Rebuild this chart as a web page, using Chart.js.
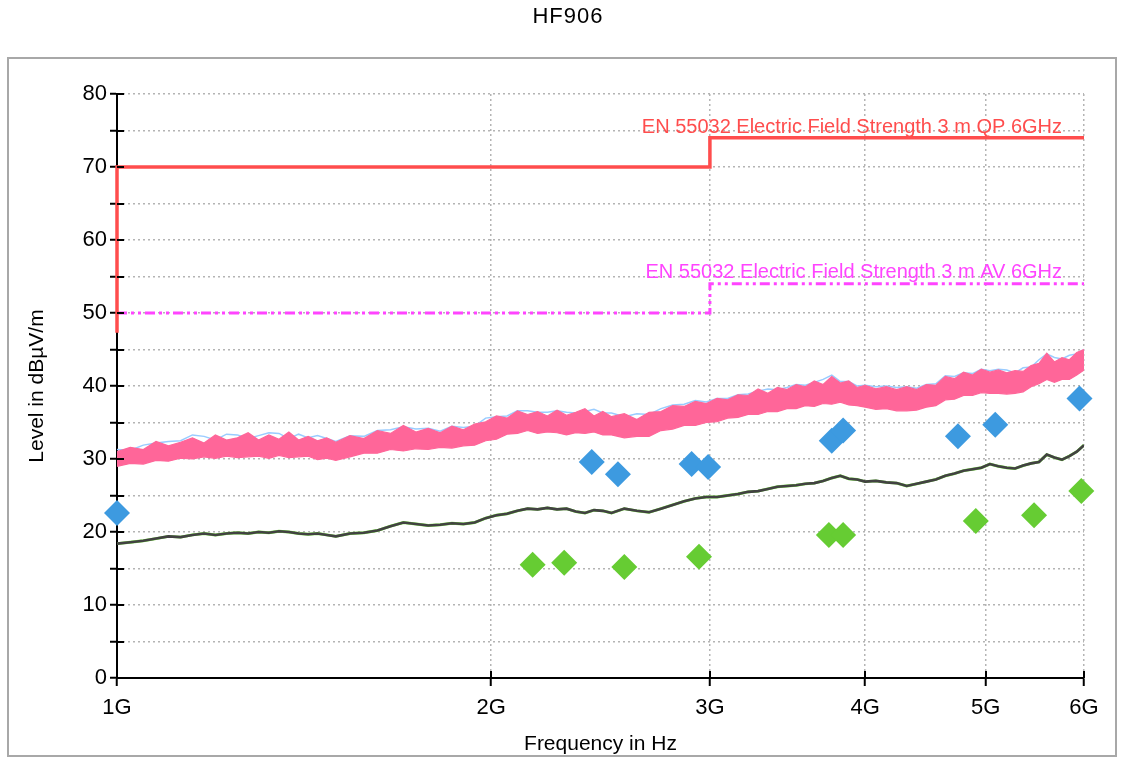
<!DOCTYPE html>
<html>
<head>
<meta charset="utf-8">
<title>HF906</title>
<script src="https://cdn.jsdelivr.net/npm/chart.js@4/dist/chart.umd.min.js"></script>
<style>
  html, body { margin: 0; padding: 0; background: #fff; }
  canvas { display: block; }
</style>
</head>
<body>
<canvas id="emcChart" width="1124" height="758"></canvas>
<script>
// Frequencies in GHz for the scan traces
const freqs = [
  1.000, 1.025, 1.050, 1.075, 1.100, 1.125, 1.150, 1.175, 1.200, 1.225,
  1.250, 1.275, 1.300, 1.325, 1.350, 1.375, 1.400, 1.425, 1.450, 1.475,
  1.50, 1.54, 1.58, 1.62, 1.66, 1.70, 1.74, 1.78, 1.82, 1.86,
  1.90, 1.94, 1.98, 2.02, 2.06, 2.10, 2.14, 2.18, 2.22, 2.26,
  2.30, 2.34, 2.38, 2.42, 2.46,
  2.50, 2.56, 2.62, 2.68, 2.74, 2.80, 2.86, 2.92, 2.98, 3.04,
  3.10, 3.16, 3.22, 3.28, 3.34, 3.40, 3.46, 3.52, 3.58, 3.64,
  3.70, 3.76, 3.82, 3.88, 3.94,
  4.00, 4.08, 4.16, 4.24, 4.32, 4.40, 4.48, 4.56, 4.64, 4.72,
  4.80, 4.88, 4.96, 5.04, 5.12, 5.20, 5.28, 5.36, 5.44, 5.52,
  5.60, 5.68, 5.76, 5.84, 5.92, 6.00
];

// Peak scan (pink) - upper and lower edge of the noisy band
const peakHigh = [
  31.0, 31.6, 31.3, 32.4, 31.8, 32.3, 32.9, 32.2, 33.3, 32.6,
  32.9, 33.6, 32.6, 33.3, 32.7, 33.7, 32.6, 33.1, 32.5, 32.9,
  32.3, 33.2, 32.8, 33.9, 33.5, 34.6, 33.7, 34.2, 33.6, 34.5,
  34.0, 34.8, 35.1, 35.9, 35.6, 36.6, 36.1, 36.5, 35.9, 36.7,
  36.0, 36.4, 36.9, 35.9, 36.5,
  35.8, 36.2, 35.4, 36.4, 36.5, 37.3, 37.2, 37.9, 37.6, 38.3,
  38.1, 38.8, 38.7, 39.6, 39.0, 39.8, 39.5, 40.2, 39.9, 40.7,
  40.2, 41.3, 40.4, 40.7, 39.8,
  40.1, 39.6, 39.9, 39.5, 39.9, 39.5, 40.2, 40.1, 41.3, 41.0,
  41.9, 41.5, 42.3, 41.9, 42.2, 41.8, 42.1, 42.0, 42.8, 43.1,
  44.5, 43.3, 43.9, 43.6, 44.6, 45.0
];
const peakLow = [
  29.0, 29.4, 29.3, 29.8, 29.7, 30.1, 30.0, 30.3, 30.1, 30.4,
  30.2, 30.3, 30.4, 30.1, 30.5, 30.2, 30.3, 30.4, 29.9, 30.1,
  29.8, 30.3, 30.8, 30.8, 31.3, 31.1, 31.4, 31.3, 31.6, 31.5,
  31.8, 31.9, 32.5, 32.7, 33.4, 33.5, 33.9, 33.5, 33.7, 33.6,
  33.3, 33.6, 33.5, 33.7, 33.3,
  33.3, 32.9, 33.1, 33.1, 33.9, 34.1, 34.6, 34.6, 35.0, 35.1,
  35.6, 35.7, 36.1, 36.1, 36.5, 36.5, 36.9, 36.9, 37.3, 37.2,
  37.6, 37.5, 37.8, 37.4, 37.3,
  37.1, 36.8, 36.9, 36.6, 36.6, 36.7, 37.1, 37.3, 38.1, 38.2,
  38.7, 38.7, 39.1, 39.0, 39.0, 38.9, 39.0, 39.2, 39.9, 40.3,
  40.9, 40.5, 40.9, 40.9, 41.5, 42.2
];
// Second peak trace (light blue), mostly hidden under the pink one
const peak2 = [
  31.3, 31.2, 31.9, 32.2, 32.4, 32.5, 33.3, 33.1, 32.6, 33.4,
  33.3, 32.8, 33.2, 33.6, 33.5, 32.8, 33.4, 32.9, 33.2, 32.8,
  32.4, 33.2, 33.1, 33.9, 34.0, 34.4, 34.1, 34.2, 33.8, 34.5,
  34.3, 34.5, 35.6, 35.8, 35.9, 36.6, 36.6, 36.4, 36.4, 36.6,
  36.4, 36.3, 36.5, 36.8, 36.3,
  36.3, 35.8, 36.2, 36.1, 36.9, 37.4, 37.5, 38.0, 37.8, 38.3,
  38.3, 38.8, 38.9, 39.3, 39.6, 39.5, 39.8, 40.2, 40.1, 40.5,
  40.9, 41.5, 40.6, 40.6, 40.0,
  40.1, 39.9, 40.0, 39.8, 39.9, 39.7, 40.2, 40.3, 41.4, 41.3,
  41.8, 41.7, 42.3, 42.1, 42.3, 42.2, 41.8, 42.5, 42.6, 43.6,
  44.4, 43.9, 43.7, 44.2, 44.4, 45.0
];
// Average scan (dark grey, green underneath)
const average = [
  18.4, 18.6, 18.8, 19.1, 19.4, 19.3, 19.6, 19.8, 19.6, 19.8,
  19.9, 19.8, 20.0, 19.9, 20.1, 20.0, 19.8, 19.7, 19.8, 19.6,
  19.4, 19.8, 19.9, 20.2, 20.8, 21.3, 21.1, 20.9, 21.0, 21.2,
  21.1, 21.3, 21.9, 22.3, 22.5, 22.9, 23.2, 23.1, 23.3, 23.1,
  23.2, 22.8, 22.6, 23.0, 22.9,
  22.6, 23.2, 22.9, 22.7, 23.2, 23.7, 24.2, 24.6, 24.8, 24.8,
  25.0, 25.2, 25.5, 25.6, 25.9, 26.2, 26.3, 26.4, 26.6, 26.7,
  27.0, 27.4, 27.7, 27.3, 27.2,
  26.9, 27.0, 26.8, 26.7, 26.3, 26.6, 26.9, 27.2, 27.7, 28.0,
  28.4, 28.6, 28.8, 29.3, 29.0, 28.8, 28.7, 29.1, 29.4, 29.6,
  30.6, 30.2, 29.9, 30.4, 31.0, 31.9
];

// Final measurement markers
const qpMarkFreq = [1.00, 2.41, 2.53, 2.90, 2.99, 3.76, 3.84, 4.75, 5.09, 5.95];
const qpMarkLevel = [22.6, 29.6, 27.9, 29.3, 28.9, 32.5, 33.9, 33.1, 34.7, 38.3];
const avMarkFreq = [2.16, 2.29, 2.56, 2.94, 3.74, 3.84, 4.91, 5.47, 5.97];
const avMarkLevel = [15.5, 15.8, 15.2, 16.6, 19.6, 19.6, 21.5, 22.3, 25.6];

// Limit lines
const qpLimitFreq = [1, 1, 3, 3, 6];
const qpLimitLevel = [47.3, 70, 70, 74, 74];
const avLimitFreq = [1, 3, 3, 6];
const avLimitLevel = [50, 50, 54, 54];

const xTicks = [1, 2, 3, 4, 5, 6];
const chartTitle = 'HF906';
const qpLabel = 'EN 55032 Electric Field Strength 3 m QP 6GHz';
const avLabel = 'EN 55032 Electric Field Strength 3 m AV 6GHz';

function pts(xs, ys) {
  return xs.map((x, i) => ({ x: x, y: ys[i] }));
}

Chart.defaults.font.family = '"Liberation Sans", Arial, sans-serif';
Chart.defaults.color = '#000';

// white background + grey frame round the plot
const framePlugin = {
  id: 'frame',
  beforeDraw(chart) {
    const ctx = chart.ctx;
    ctx.save();
    ctx.fillStyle = '#fff';
    ctx.fillRect(0, 0, chart.width, chart.height);
    ctx.strokeStyle = '#a8a8a8';
    ctx.lineWidth = 2;
    ctx.strokeRect(8, 58, chart.width - 16, chart.height - 60);
    ctx.restore();
  }
};

// title, ticks that cross the axes, limit line labels
const extrasPlugin = {
  id: 'extras',
  afterDraw(chart) {
    const ctx = chart.ctx;
    const x = chart.scales.x, y = chart.scales.y;
    const area = chart.chartArea;
    ctx.save();
    ctx.strokeStyle = '#000';
    ctx.lineWidth = 2;
    ctx.beginPath();
    y.ticks.forEach(t => {
      const py = Math.round(y.getPixelForValue(t.value));
      ctx.moveTo(area.left, py);
      ctx.lineTo(area.left + 7, py);
    });
    x.ticks.forEach(t => {
      const px = Math.round(x.getPixelForValue(t.value));
      ctx.moveTo(px, area.bottom);
      ctx.lineTo(px, area.bottom - 7);
    });
    ctx.stroke();

    ctx.fillStyle = '#000';
    ctx.font = '22px "Liberation Sans", Arial, sans-serif';
    ctx.textAlign = 'center';
    ctx.textBaseline = 'middle';
    ctx.letterSpacing = '1px';
    ctx.fillText(chartTitle, 568, 17);
    ctx.letterSpacing = '0px';

    ctx.font = '20px "Liberation Sans", Arial, sans-serif';
    ctx.textAlign = 'right';
    ctx.textBaseline = 'alphabetic';
    ctx.fillStyle = '#ff4d4d';
    ctx.fillText(qpLabel, x.getPixelForValue(6) - 22, y.getPixelForValue(74) - 5);
    ctx.fillStyle = '#ff44ff';
    ctx.fillText(avLabel, x.getPixelForValue(6) - 22, y.getPixelForValue(54) - 6);
    ctx.restore();
  }
};

const ctx = document.getElementById('emcChart').getContext('2d');
const emcChart = new Chart(ctx, {
  type: 'scatter',
  data: {
    datasets: [
      {
        label: 'Peak 2',
        data: pts(freqs, peak2),
        showLine: true,
        borderColor: '#99ccff',
        borderWidth: 1.5,
        pointRadius: 0,
        order: 9
      },
      {
        label: 'Peak',
        data: pts(freqs, peakHigh),
        showLine: true,
        borderColor: '#ff6699',
        backgroundColor: '#ff6699',
        borderWidth: 1.2,
        pointRadius: 0,
        fill: '+1',
        order: 8
      },
      {
        label: 'Peak low',
        data: pts(freqs, peakLow),
        showLine: true,
        borderColor: '#ff6699',
        borderWidth: 1.2,
        pointRadius: 0,
        order: 8
      },
      {
        label: 'Average 2',
        data: pts(freqs, average),
        showLine: true,
        borderColor: '#77dd44',
        borderWidth: 2.9,
        pointRadius: 0,
        order: 7
      },
      {
        label: 'Average',
        data: pts(freqs, average),
        showLine: true,
        borderColor: '#424242',
        borderWidth: 2.6,
        pointRadius: 0,
        order: 6
      },
      {
        label: 'AV limit',
        data: pts(avLimitFreq, avLimitLevel),
        showLine: true,
        borderColor: '#ff44ff',
        borderWidth: 3,
        borderDash: [10, 4, 3, 4, 3, 4],
        pointRadius: 0,
        clip: false,
        order: 5
      },
      {
        label: 'QP limit',
        data: pts(qpLimitFreq, qpLimitLevel),
        showLine: true,
        borderColor: '#ff4d4d',
        borderWidth: 3.5,
        pointRadius: 0,
        clip: false,
        order: 4
      },
      {
        label: 'QP final',
        data: pts(qpMarkFreq, qpMarkLevel),
        pointStyle: 'rectRot',
        pointRadius: 13,
        borderWidth: 0,
        backgroundColor: '#3d9ae0',
        clip: false,
        order: 2
      },
      {
        label: 'AV final',
        data: pts(avMarkFreq, avMarkLevel),
        pointStyle: 'rectRot',
        pointRadius: 13,
        borderWidth: 0,
        backgroundColor: '#66cc33',
        clip: false,
        order: 1
      }
    ]
  },
  options: {
    responsive: false,
    animation: false,
    events: [],
    layout: { padding: { top: 94, right: 40, left: 0, bottom: 0 } },
    plugins: {
      legend: { display: false },
      tooltip: { enabled: false },
      title: { display: false }
    },
    scales: {
      x: {
        type: 'logarithmic',
        min: 1,
        max: 6,
        afterBuildTicks(scale) {
          scale.ticks = xTicks.map(v => ({ value: v }));
        },
        afterFit(scale) { scale.height = 80; },
        ticks: {
          autoSkip: false,
          maxRotation: 0,
          padding: 9,
          font: { size: 22 },
          callback: v => v + 'G'
        },
        grid: {
          color: '#b4b4b4',
          lineWidth: 1.5,
          tickLength: 8,
          tickColor: '#000',
          tickWidth: 2
        },
        border: { color: '#000', width: 2, dash: [2, 3] },
        title: {
          display: true,
          text: 'Frequency in Hz',
          font: { size: 21 },
          padding: { top: 0, bottom: 1 }
        }
      },
      y: {
        min: 0,
        max: 80,
        afterFit(scale) { scale.width = 117; },
        ticks: {
          stepSize: 5,
          padding: 3,
          font: { size: 22 },
          callback: v => (v % 10 === 0 ? v : '')
        },
        grid: {
          color: '#b4b4b4',
          lineWidth: 1.5,
          tickLength: 7,
          tickColor: '#000',
          tickWidth: 2
        },
        border: { color: '#000', width: 2, dash: [2, 3] },
        title: {
          display: true,
          text: 'Level in dBµV/m',
          font: { size: 21 },
          padding: { top: 25, bottom: 0 }
        }
      }
    }
  },
  plugins: [framePlugin, extrasPlugin]
});
</script>
</body>
</html>
